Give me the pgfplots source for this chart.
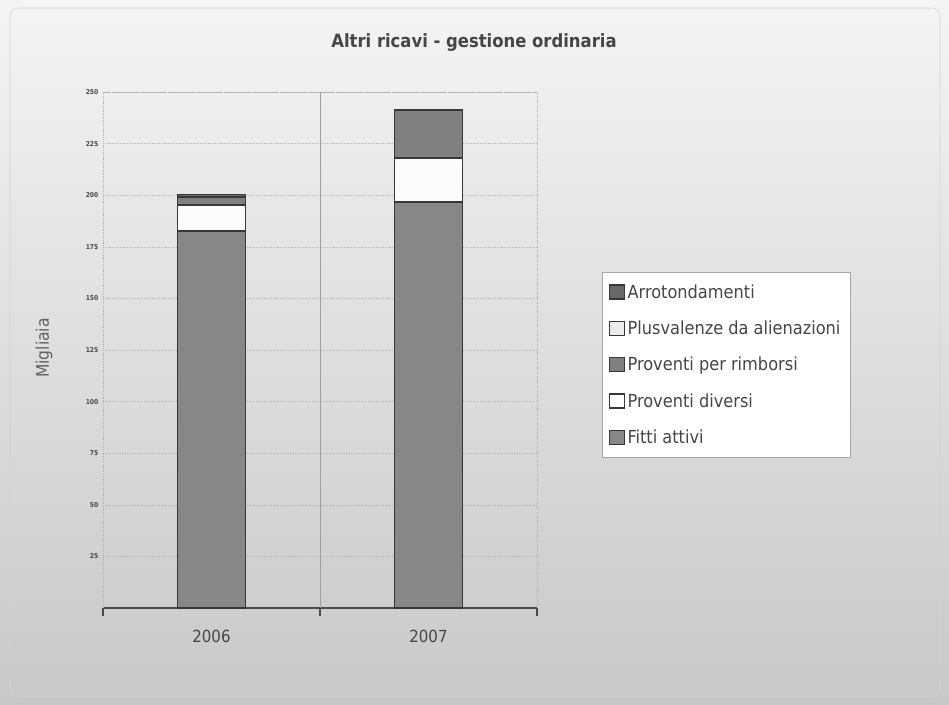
\documentclass[border=0pt]{standalone}
\usepackage{fontspec}
\setmainfont{DejaVu Sans Condensed}
\usepackage{pgfplots}
\pgfplotsset{compat=1.18}
\definecolor{bgtop}{RGB}{244,244,244}
\definecolor{bgbot}{RGB}{200,200,200}
\definecolor{txt}{RGB}{70,70,70}
\definecolor{edge}{RGB}{55,55,55}
\definecolor{cfitti}{RGB}{135,135,135}
\definecolor{cdiversi}{RGB}{252,252,252}
\definecolor{crimborsi}{RGB}{128,128,128}
\definecolor{cplus}{RGB}{236,236,236}
\definecolor{carrot}{RGB}{105,105,105}
\begin{document}
\begin{tikzpicture}
\shade[top color=bgtop,bottom color=bgbot] (0pt,0pt) rectangle (711.75pt,528pt);
\draw[gray!35,rounded corners=6pt] (7.5pt,6pt) rectangle (705pt,522pt);
\node[font=\bfseries\fontsize{13.7}{15}\selectfont,text=txt] at (355.5pt,495.75pt) {Altri ricavi - gestione ordinaria};
\node[font=\fontsize{13}{15}\selectfont,text=txt!85,rotate=90] at (33pt,267pt) {Migliaia};
\begin{axis}[
  at={(77.25pt,72pt)}, anchor=south west,
  width=325.5pt, height=387pt, scale only axis,
  ybar stacked, bar width=51pt,
  xmin=0.5, xmax=2.5, ymin=0, ymax=250,
  xtick={1,2}, xticklabels={2006,2007},
  ytick={25,50,...,250},
  major tick length=0pt,
  axis line style={draw=none},
  /pgf/number format/assume math mode=true,
  ymajorgrids, grid style={gray!55, densely dotted, line width=0.4pt},
  xticklabel style={font=\fontsize{12.5}{15}\selectfont, text=txt, yshift=-13pt},
  yticklabel style={font=\bfseries\fontsize{5}{6}\selectfont, text=txt},
  clip=false,
  legend style={at={(1.1498,0.651)}, anchor=north west, draw=gray!70, fill=white,
    font=\fontsize{13.5}{15}\selectfont, text=txt, row sep=11.5pt,
    inner xsep=5pt, inner ysep=7pt, cells={anchor=west}},
  legend cell align=left,
  reverse legend,
  legend image code/.code={\draw[#1] (0pt,-5pt) rectangle (11pt,5.5pt);},
  every axis plot/.append style={draw=edge, line width=1pt},
]
\addplot[fill=cfitti] coordinates {(1,182.6) (2,196.7)};
\addplot[fill=cdiversi] coordinates {(1,12.6) (2,21.3)};
\addplot[fill=crimborsi] coordinates {(1,4.0) (2,23.3)};
\addplot[fill=cplus] coordinates {(1,0) (2,0)};
\addplot[fill=carrot] coordinates {(1,1.0) (2,0)};
\legend{Fitti attivi, Proventi diversi, Proventi per rimborsi, Plusvalenze da alienazioni, Arrotondamenti}
\draw[gray!60, densely dotted] (axis cs:0.5,0) -- (axis cs:0.5,250) -- (axis cs:2.5,250) -- (axis cs:2.5,0);
\draw[gray!75, line width=0.5pt] (axis cs:1.5,0) -- (axis cs:1.5,250);
\draw[edge!90, line width=0.8pt] (axis cs:0.5,0) -- (axis cs:2.5,0);
\draw[edge!90, line width=0.8pt] (axis cs:0.5,0) -- ([yshift=-6pt]axis cs:0.5,0);
\draw[edge!90, line width=0.8pt] (axis cs:1.5,0) -- ([yshift=-6pt]axis cs:1.5,0);
\draw[edge!90, line width=0.8pt] (axis cs:2.5,0) -- ([yshift=-6pt]axis cs:2.5,0);
\end{axis}
\end{tikzpicture}
\end{document}
